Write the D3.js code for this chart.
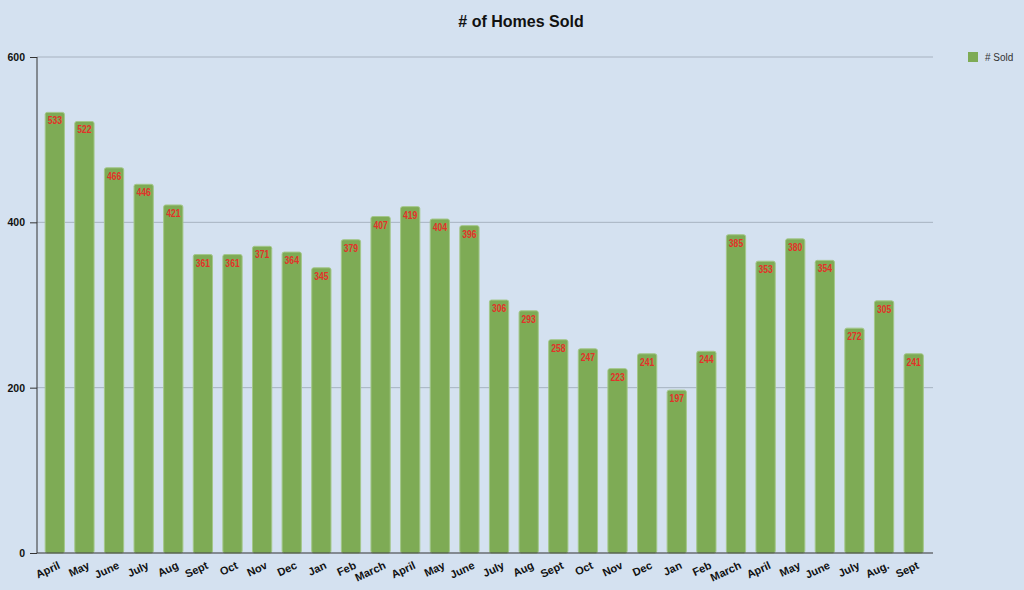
<!DOCTYPE html>
<html><head><meta charset="utf-8">
<script src="https://cdn.jsdelivr.net/npm/d3@7"></script>
<style>
html,body{margin:0;padding:0;background:#d4e1f0;}
svg{display:block;}
</style></head>
<body>
<svg id="chart" width="1024" height="590"></svg>
<script>
const categories = ["April","May","June","July","Aug","Sept","Oct","Nov","Dec","Jan","Feb","March","April","May","June","July","Aug","Sept","Oct","Nov","Dec","Jan","Feb","March","April","May","June","July","Aug.","Sept"];
const sold = [533,522,466,446,421,361,361,371,364,345,379,407,419,404,396,306,293,258,247,223,241,197,244,385,353,380,354,272,305,241];
const yTicks = [0,200,400,600];
const seriesName = "# Sold";
const chartTitle = "# of Homes Sold";

(function(){
const svg = d3.select("#chart");
svg.append("rect").attr("width",1024).attr("height",590).attr("fill","#d4e1f0");

const pL = 37, pR = 933, pT = 57, pB = 553;
const idx = d3.range(categories.length);
const x = d3.scaleBand().domain(idx).range([40, 928.5]).paddingInner(0.35).paddingOuter(0.175);
const y = d3.scaleLinear().domain([0,600]).range([pB, pT]);

svg.append("g").selectAll("line").data(yTicks.filter(d=>d>0)).join("line")
  .attr("x1", pL).attr("x2", pR)
  .attr("y1", d=>y(d)).attr("y2", d=>y(d))
  .attr("stroke","#a7b2c0").attr("stroke-width",1);

svg.append("g").selectAll("rect").data(idx).join("rect")
  .attr("x", i=>x(i)).attr("width", x.bandwidth())
  .attr("y", i=>y(sold[i])).attr("height", i=>pB - y(sold[i]))
  .attr("rx",2).attr("ry",2)
  .attr("fill","#7eab55").attr("stroke","#a3c78a").attr("stroke-width",1);

svg.append("g").selectAll("text").data(idx).join("text")
  .attr("transform", i=>`translate(${x(i)+x.bandwidth()/2},${y(sold[i])+12}) scale(0.78,1)`)
  .attr("text-anchor","middle")
  .attr("font-family","Arial,'Liberation Sans',sans-serif")
  .attr("font-weight","bold").attr("font-size",11)
  .attr("fill","#e2322a")
  .text(i=>sold[i]);

const yAxis = d3.axisLeft(y).tickValues(yTicks).tickSize(7).tickPadding(5).tickFormat(d3.format("d"));
const ga = svg.append("g").attr("transform",`translate(${pL},0)`).call(yAxis);
ga.select(".domain").attr("stroke","#333").attr("d",`M0,${pT}V${pB}`);
ga.selectAll(".tick line").attr("stroke","#333");
ga.selectAll(".tick text").attr("font-family","Arial,'Liberation Sans',sans-serif").attr("font-weight","bold").attr("font-size",10.5).attr("fill","#111");

const xAxis = d3.axisBottom(x).tickSize(0).tickFormat(i=>categories[i]);
const gx = svg.append("g").attr("transform",`translate(0,${pB})`).call(xAxis);
gx.select(".domain").attr("stroke","#333").attr("d",`M${pL},0H${pR}`);
gx.selectAll(".tick text")
  .attr("font-family","Arial,'Liberation Sans',sans-serif").attr("font-weight","bold").attr("font-size",11).attr("fill","#111")
  .attr("text-anchor","end").attr("dy",0).attr("y",0)
  .attr("transform","translate(6,15) rotate(-25)");

svg.append("text").attr("x",521).attr("y",27).attr("text-anchor","middle")
  .attr("font-family","Arial,'Liberation Sans',sans-serif").attr("font-weight","bold").attr("font-size",16).attr("fill","#111")
  .text(chartTitle);

svg.append("rect").attr("x",968).attr("y",52).attr("width",10).attr("height",10).attr("fill","#7eab55");
svg.append("text").attr("x",985).attr("y",61).attr("font-family","Arial,'Liberation Sans',sans-serif").attr("font-size",10).attr("fill","#333").text(seriesName);
})();
</script>
</body></html>
